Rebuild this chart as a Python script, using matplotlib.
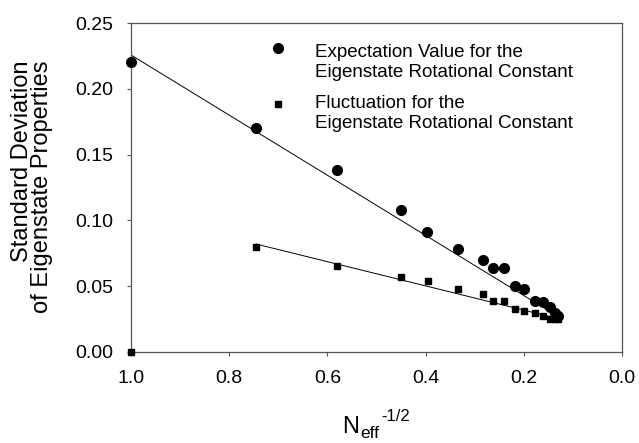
import matplotlib
matplotlib.use("Agg")
import matplotlib.pyplot as plt

plt.rcParams['font.family'] = ['Liberation Sans', 'DejaVu Sans']

# Expectation value of the eigenstate rotational constant
x_expect = [1.0, 0.745, 0.580, 0.450, 0.397, 0.334, 0.283, 0.263, 0.240,
            0.218, 0.200, 0.177, 0.161, 0.147, 0.136, 0.130]
y_expect = [0.220, 0.170, 0.138, 0.108, 0.091, 0.078, 0.070, 0.064, 0.064,
            0.050, 0.048, 0.039, 0.038, 0.034, 0.030, 0.027]

# Fluctuation of the eigenstate rotational constant
x_fluct = [1.0, 0.745, 0.580, 0.450, 0.395, 0.334, 0.283, 0.263, 0.240,
           0.218, 0.200, 0.177, 0.161, 0.147, 0.136, 0.130]
y_fluct = [0.000, 0.080, 0.065, 0.057, 0.054, 0.048, 0.044, 0.039, 0.039,
           0.033, 0.031, 0.030, 0.027, 0.025, 0.025, 0.025]

# Linear fits (end points)
fit_expect_x = [1.0, 0.126]
fit_expect_y = [0.2257, 0.026]
fit_fluct_x = [0.745, 0.126]
fit_fluct_y = [0.082, 0.025]

x_ticks = [1.0, 0.8, 0.6, 0.4, 0.2, 0.0]
y_ticks = [0.00, 0.05, 0.10, 0.15, 0.20, 0.25]

legend_lines = [
    ['Expectation Value for the', 'Eigenstate Rotational Constant'],
    ['Fluctuation for the', 'Eigenstate Rotational Constant'],
]

W, H = 639, 443
fig = plt.figure(figsize=(W / 100, H / 100), dpi=100)
ax = fig.add_axes([131 / W, 1 - 352 / H, 491 / W, 329 / H])

ax.plot(fit_expect_x, fit_expect_y, color='black', lw=0.7, zorder=2)
ax.plot(fit_fluct_x, fit_fluct_y, color='black', lw=0.7, zorder=2)
ax.plot(x_expect, y_expect, 'o', color='black', ms=7, clip_on=False, zorder=3)
ax.plot(x_fluct, y_fluct, 's', color='black', ms=5, clip_on=False, zorder=3)

ax.set_xlim(1.0, 0.0)
ax.set_ylim(0.0, 0.25)
ax.set_xticks(x_ticks)
ax.set_yticks(y_ticks)
ax.set_xticklabels([f'{v:.1f}' for v in x_ticks])
ax.set_yticklabels([f'{v:.2f}' for v in y_ticks])
ax.tick_params(direction='out', length=3, width=0.8, color='#555555',
               labelsize=14, pad=10)
for s in ax.spines.values():
    s.set_color('#555555')
    s.set_linewidth(0.9)

# Legend drawn as markers + text in axes coordinates
def ax_xy(px, py):
    return (px - 131) / 491, (352 - py) / 329

mx, my = ax_xy(278, 48)
ax.plot([mx], [my], 'o', color='black', ms=7, transform=ax.transAxes, clip_on=False)
mx, my = ax_xy(278, 104)
ax.plot([mx], [my], 's', color='black', ms=5, transform=ax.transAxes, clip_on=False)
for (l1, l2), (b1, b2) in zip(legend_lines, [(57, 77), (108, 128)]):
    tx, ty = ax_xy(315, b1)
    ax.text(tx, ty, l1, transform=ax.transAxes, fontsize=13.5, va='baseline', ha='left')
    tx, ty = ax_xy(315, b2)
    ax.text(tx, ty, l2, transform=ax.transAxes, fontsize=13.5, va='baseline', ha='left')

# Axis titles
fig.text(32 / W, 1 - 187 / H, 'Standard Deviation\nof Eigenstate Properties',
         rotation=90, ha='center', va='center', multialignment='right',
         fontsize=17, linespacing=0.85)
fig.text(342 / W, 1 - 433 / H, 'N', fontsize=17, ha='left', va='baseline')
fig.text(360 / W, 1 - 438 / H, 'eff', fontsize=12.5, ha='left', va='baseline')
fig.text(381 / W, 1 - 421 / H, '-1/2', fontsize=12, ha='left', va='baseline')

fig.savefig('out.png', dpi=100)
